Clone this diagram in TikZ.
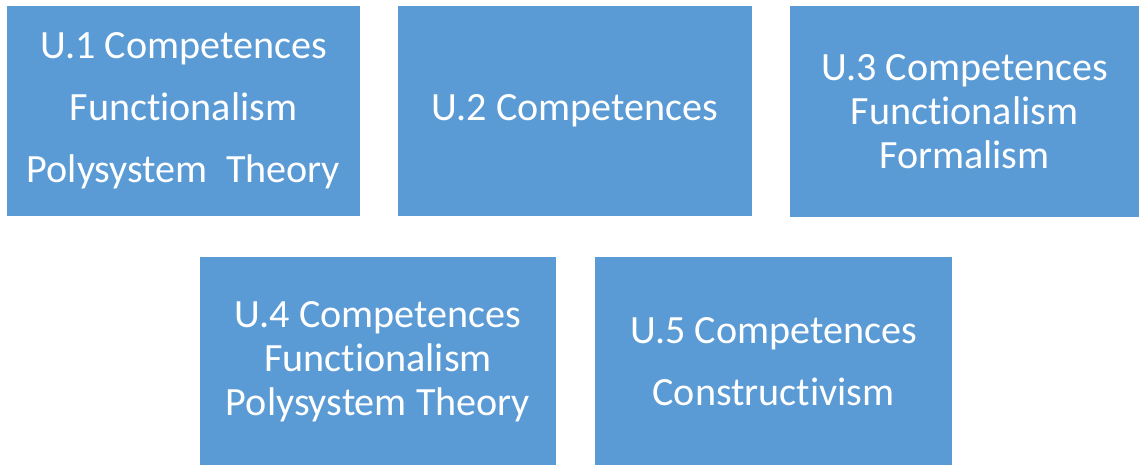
\documentclass[tikz,border=0pt]{standalone}
\usepackage{fontspec}
\setmainfont{Carlito}[Ligatures=NoCommon]
\usetikzlibrary{positioning}
\definecolor{unitblue}{RGB}{91,155,213}

\begin{document}
\begin{tikzpicture}[x=1pt,y=-1pt,
    unit/.style={fill=unitblue, text=white, inner sep=0pt, align=center,
        font=\fontsize{40.1}{44}\selectfont},
    every node/.style={anchor=center}]
        \useasboundingbox (0,0) rectangle (1139,465);
        % top row
        \node[unit, minimum width=353pt, minimum height=210pt] (u1) at (183.5,111)
            {U.1 Competences\\[18pt] Functionalism\\[18pt] Polysystem\ \ Theory};
        \node[unit, minimum width=354pt, minimum height=210pt] (u2) at (575,111)
            {U.2 Competences};
        \node[unit, minimum width=349pt, minimum height=211pt] (u3) at (964.5,111.5)
            {U.3 Competences\\ Functionalism\\ Formalism};
        % bottom row
        \node[unit, minimum width=356pt, minimum height=210pt] (u4) at (378,362)
            {U.4 Competences\\ Functionalism\\ Polysystem Theory};
        \node[unit, minimum width=357pt, minimum height=210pt] (u5) at (773.5,362)
            {U.5 Competences\\[18pt] Constructivism};
    \end{tikzpicture}
\end{document}
